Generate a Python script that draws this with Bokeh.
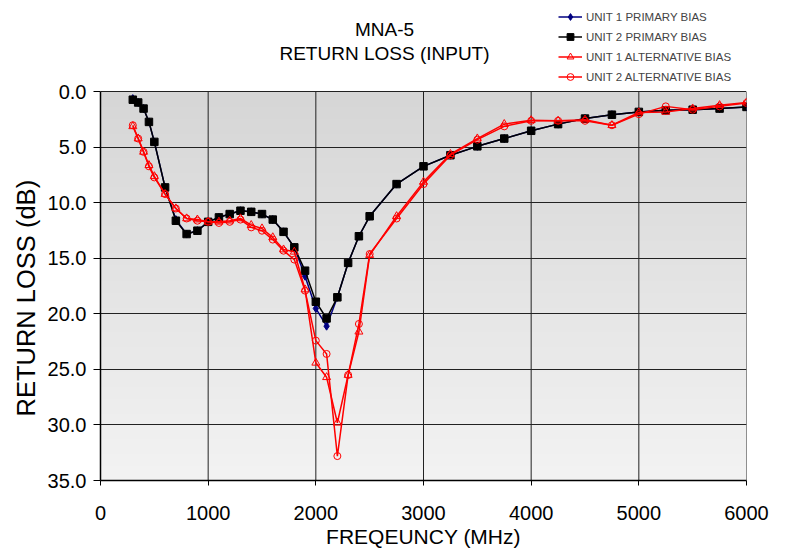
import numpy as np
from bokeh.plotting import figure
from bokeh.models import (Range1d, Label, Legend, LegendItem, FixedTicker,
                          NumeralTickFormatter, Title)
from bokeh.embed import file_html
from bokeh.resources import INLINE

# ---------------- data ----------------
freq = [300, 350, 400, 450, 500, 600, 700, 800, 900, 1000, 1100, 1200, 1300, 1400,
        1500, 1600, 1700, 1800, 1900, 2000, 2100, 2200, 2300, 2400, 2500, 2750,
        3000, 3250, 3500, 3750, 4000, 4250, 4500, 4750, 5000, 5250, 5500, 5750, 6000]

unit1_primary = [0.6, 0.95, 1.5, 2.7, 4.5, 8.6, 11.5, 12.8, 12.5, 11.7, 11.3, 11.0, 10.7, 10.8,
                 11.0, 11.5, 12.6, 14.0, 16.6, 19.5, 21.1, 18.5, 15.4, 13.0, 11.2, 8.3,
                 6.7, 5.7, 4.9, 4.2, 3.5, 2.9, 2.4, 2.05, 1.8, 1.65, 1.6, 1.5, 1.35]

unit2_primary = [0.7, 0.95, 1.5, 2.7, 4.5, 8.6, 11.6, 12.8, 12.5, 11.7, 11.3, 11.0, 10.7, 10.8,
                 11.0, 11.5, 12.6, 14.0, 16.1, 18.9, 20.4, 18.5, 15.4, 13.0, 11.2, 8.3,
                 6.7, 5.7, 4.9, 4.2, 3.5, 2.9, 2.4, 2.05, 1.8, 1.65, 1.6, 1.5, 1.35]

unit1_alt = [3.1, 4.2, 5.4, 6.6, 7.6, 9.2, 10.5, 11.4, 11.5, 11.7, 11.7, 11.6, 11.4, 12.0,
             12.3, 13.1, 14.2, 14.4, 17.8, 24.4, 25.7, 29.8, 25.5, 21.6, 14.7, 11.2,
             8.1, 5.6, 4.2, 2.9, 2.55, 2.6, 2.5, 3.0, 1.85, 1.8, 1.5, 1.2, 0.95]

unit2_alt = [3.0, 4.2, 5.4, 6.7, 7.7, 9.2, 10.5, 11.4, 11.6, 11.7, 11.8, 11.7, 11.5, 12.2,
             12.5, 13.3, 14.3, 15.1, 17.9, 22.4, 23.6, 32.8, 25.5, 20.9, 14.6, 11.4,
             8.3, 5.7, 4.3, 3.1, 2.6, 2.6, 2.6, 3.0, 2.0, 1.3, 1.6, 1.3, 1.0]

series_names = ["UNIT 1 PRIMARY BIAS", "UNIT 2 PRIMARY BIAS",
                "UNIT 1 ALTERNATIVE BIAS", "UNIT 2 ALTERNATIVE BIAS"]
title_lines = ["MNA-5", "RETURN LOSS (INPUT)"]
x_label = "FREQEUNCY (MHz)"
y_label = "RETURN LOSS (dB)"
x_ticks = [0, 1000, 2000, 3000, 4000, 5000, 6000]
y_ticks = [0, 5, 10, 15, 20, 25, 30, 35]

FONT = "Liberation Sans"

# plot-area geometry (pixels)
FRAME_TOP, FRAME_BOTTOM = 2, 483
Y_MIN, Y_MAX = y_ticks[0], y_ticks[-1]
px_per_unit = (FRAME_BOTTOM - 92) / (Y_MAX - Y_MIN)
y_top = Y_MAX - (FRAME_BOTTOM - FRAME_TOP) / px_per_unit   # headroom for titles/legend

p = figure(width=785, height=550, output_backend="svg", toolbar_location=None,
           x_range=Range1d(x_ticks[0], x_ticks[-1]), y_range=Range1d(Y_MAX, y_top),
           min_border_left=100, min_border_right=39, min_border_top=FRAME_TOP,
           min_border_bottom=550 - FRAME_BOTTOM)
p.background_fill_color = "white"
p.border_fill_color = "white"
p.outline_line_color = None

# gradient background of the plot area (decoration)
p.extra_y_ranges = {"bg": Range1d(-Y_MAX, -y_top)}
n = 128
vals = np.linspace(243, 214, n).astype(np.uint8)
img = np.zeros((n, 2), dtype=np.uint32)
view = img.view(dtype=np.uint8).reshape((n, 2, 4))
view[:, :, 0] = vals[:, None]
view[:, :, 1] = vals[:, None]
view[:, :, 2] = vals[:, None]
view[:, :, 3] = 255
p.image_rgba(image=[img], x=x_ticks[0], y=-Y_MAX, dw=x_ticks[-1] - x_ticks[0],
             dh=Y_MAX - Y_MIN, y_range_name="bg", level="image")

# vertical grid lines limited to the data area (incl. right border)
p.segment(x0=x_ticks[1:], y0=[Y_MIN] * (len(x_ticks) - 1), x1=x_ticks[1:],
          y1=[Y_MAX] * (len(x_ticks) - 1), line_color="#222222", line_width=1,
          level="underlay")

# series
r1l = p.line(freq, unit1_primary, line_color="#000080", line_width=1.5)
r1m = p.scatter(freq, unit1_primary, marker="diamond", size=8, fill_color="#000080",
                line_color="#000080")
r2l = p.line(freq, unit2_primary, line_color="black", line_width=1.5)
r2m = p.scatter(freq, unit2_primary, marker="square", size=7.5, fill_color="black",
                line_color="black")
r3l = p.line(freq, unit1_alt, line_color="#ff0000", line_width=1.5)
r3m = p.scatter(freq, unit1_alt, marker="triangle", size=8, fill_color=None,
                line_color="#ff0000", line_width=1)
r4l = p.line(freq, unit2_alt, line_color="#ff0000", line_width=1.5)
r4m = p.scatter(freq, unit2_alt, marker="circle", size=7, fill_color=None,
                line_color="#ff0000", line_width=1)

# axes
p.xaxis.ticker = FixedTicker(ticks=x_ticks)
p.yaxis.ticker = FixedTicker(ticks=y_ticks)
p.yaxis.formatter = NumeralTickFormatter(format="0.0")
p.yaxis.bounds = (Y_MIN, Y_MAX)
for ax in (p.xaxis[0], p.yaxis[0]):
    ax.axis_line_color = "black"
    ax.axis_line_width = 1.5
    ax.major_tick_line_color = "black"
    ax.major_tick_in = 0
    ax.minor_tick_line_color = None
    ax.major_label_text_font = FONT
    ax.major_label_text_font_size = "20px"
    ax.major_label_text_color = "black"
    ax.axis_label_text_font = FONT
    ax.axis_label_text_font_style = "normal"
    ax.axis_label_text_color = "black"
p.xaxis.major_tick_out = 5
p.yaxis.major_tick_out = 7
p.xaxis.major_label_standoff = 20
p.yaxis.major_label_standoff = 7
p.xaxis.axis_label = x_label
p.xaxis.axis_label_text_font_size = "21px"
p.xaxis.axis_label_standoff = 2

# y-axis title placed along the data part of the axis
p.add_layout(Title(text=y_label, align="left", offset=64, standoff=10,
                   text_font=FONT, text_font_size="25.5px", text_font_style="normal",
                   text_color="black"), "left")

p.xgrid.grid_line_color = None
p.ygrid.ticker = FixedTicker(ticks=y_ticks)
p.ygrid.grid_line_color = "#222222"
p.ygrid.grid_line_width = 1

# titles
for txt, yy in zip(title_lines, [451, 427]):
    p.add_layout(Label(x=284, y=yy, x_units="screen", y_units="screen", text=txt,
                       text_align="center", text_baseline="middle",
                       text_font=FONT, text_font_size="19px", text_color="black"))

# legend
items = [LegendItem(label=series_names[0], renderers=[r1l, r1m]),
         LegendItem(label=series_names[1], renderers=[r2l, r2m]),
         LegendItem(label=series_names[2], renderers=[r3l, r3m]),
         LegendItem(label=series_names[3], renderers=[r4l, r4m])]
legend = Legend(items=items, location=(458, 395), border_line_color=None,
                background_fill_alpha=0, label_text_font=FONT, label_text_font_size="11.5px",
                label_height=17, glyph_height=17, glyph_width=24, spacing=3,
                padding=2, margin=0, label_standoff=4)
p.add_layout(legend, "center")

open("out.html", "w").write(file_html(p, INLINE))
